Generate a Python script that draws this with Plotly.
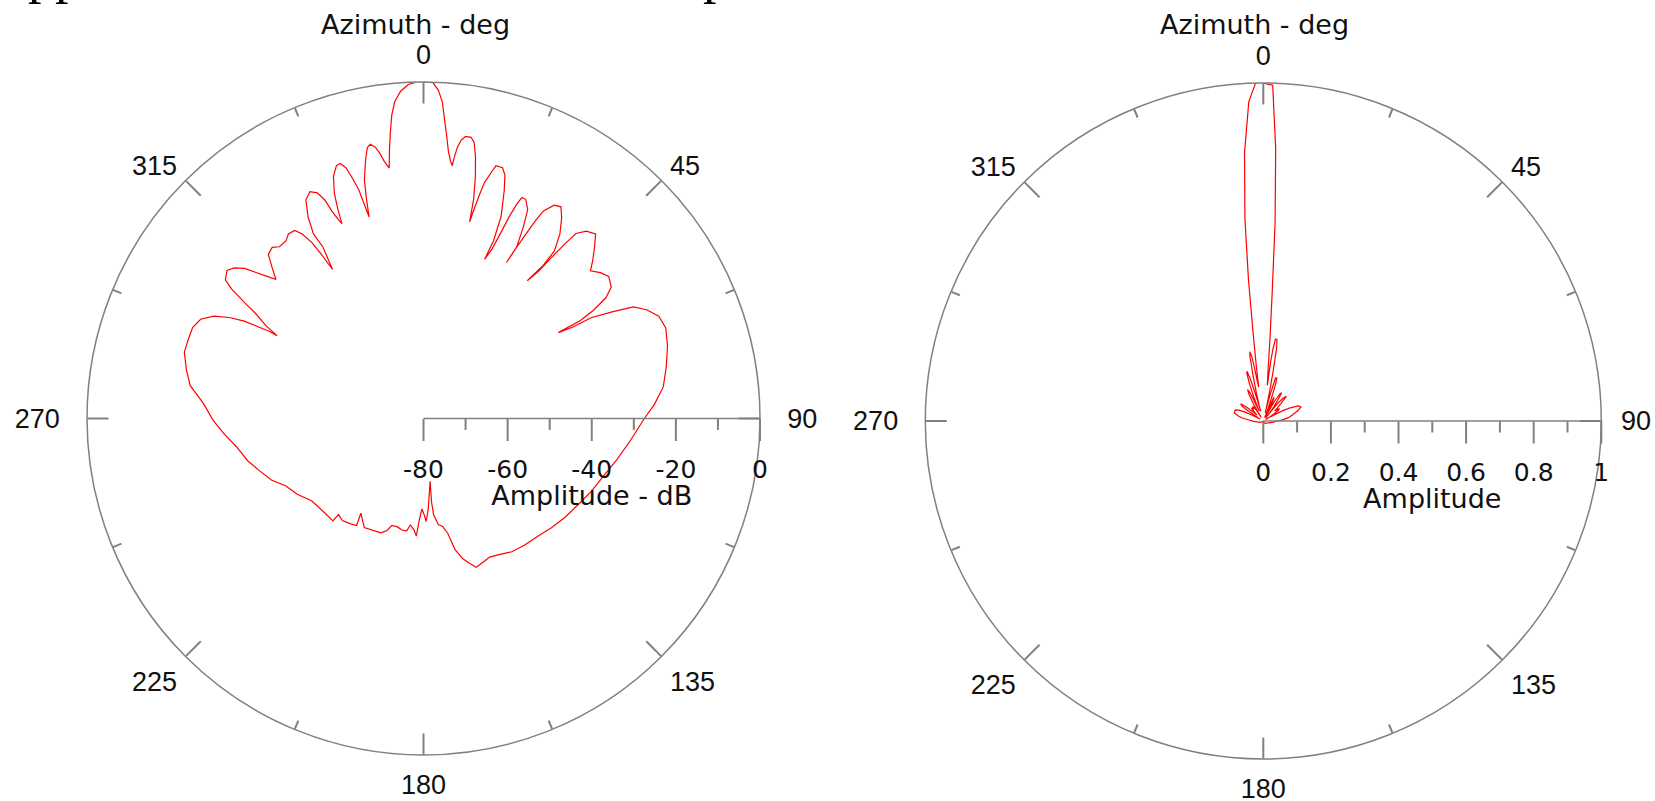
import plotly.graph_objects as go

# Azimuth of each pattern sample (deg, clockwise from north)
AZIMUTH_DEG = [
    359.9, 1.6, 2.6, 3.4, 4.0, 4.7, 5.3, 6.0, 6.5, 6.7, 7.1, 7.7, 8.5, 9.6, 10.4, 11.2, 12.1, 12.9, 13.2,
    13.5, 14.0, 14.5, 15.5, 16.0, 17.5, 18.5, 19.5, 21.0, 21.5, 21.0, 22.0, 22.5, 23.0, 23.5, 24.0, 25.0,
    26.5, 27.5, 28.5, 28.0, 28.5, 29.0, 29.5, 30.0, 31.5, 33.0, 34.5, 36.5, 38.0, 38.0, 37.0, 38.0, 38.5,
    39.0, 39.5, 41.0, 43.0, 45.0, 47.0, 48.5, 50.5, 52.5, 55.0, 56.5, 57.5, 58.0, 57.5, 58.5, 59.0, 60.5,
    62.0, 64.0, 66.5, 69.5, 73.5, 78.0, 82.5, 86.5,
    90.0, 96.0, 102.0, 107.5, 113.5, 119.5, 125.0, 130.5, 136.0, 141.5, 146.5, 151.0, 154.5, 157.5, 160.5,
    162.5, 164.5, 166.5, 168.0, 170.0, 172.0, 174.0, 174.5, 174.0, 177.0, 178.5, 179.5, 181.0, 182.5, 183.5,
    185.0, 187.0, 188.5, 191.0, 193.5, 196.5, 198.0, 200.5,
    208.5, 213.5, 212.0, 215.0, 218.5, 221.5, 221.5, 227.0, 233.5, 239.0, 244.0, 248.0, 252.5, 256.5, 261.5,
    265.5, 269.5, 274.0, 278.0, 281.5, 285.5, 288.5, 291.5, 294.0, 296.0, 297.5, 298.5, 299.0, 299.5, 299.5,
    300.5, 302.0, 303.0, 304.0, 305.0, 307.0, 308.5, 310.0, 311.0,
    312.2, 313.3, 314.9, 316.6, 318.5, 320.0, 322.3, 323.8, 325.6, 326.7, 327.6, 328.1, 328.6, 329.6, 329.2,
    330.2, 331.7, 333.4, 334.8, 335.7, 336.2, 336.9, 337.3, 337.7, 338.4, 339.6, 341.0, 341.9, 342.8, 343.4,
    344.2, 344.6, 344.9, 345.4, 346.1, 347.4, 348.3, 349.0, 349.9, 350.6, 351.3, 352.2, 352.8, 353.4, 354.0,
    354.8, 356.0, 357.4, 358.7,
]

# Pattern level in dB (left plot)
PATTERN_DB = [
    0.0, -0.1, -1.9, -4.6, -8.6, -12.6, -16.1, -18.5, -19.5, -17.6, -15.1, -13.2, -12.2, -12.2, -13.3, -16.4,
    -21.1, -26.7, -32.0,
    -29.5, -25.5, -22.0, -19.0, -17.5, -17.5, -19.0, -22.5, -28.5, -34.5, -39.5, -36.5, -33.0, -28.0, -24.5,
    -22.5, -22.5, -24.5, -28.5, -33.5, -38.0, -34.0, -30.0, -26.0, -23.0, -20.5, -20.0, -22.0, -25.5, -29.5,
    -34.0, -39.0, -35.5, -31.0, -26.5, -23.0, -21.0, -20.0, -22.5, -25.0, -27.0, -25.5, -24.5, -25.5, -28.0,
    -32.0, -36.0, -42.0, -38.5, -33.5, -28.5, -23.5, -21.0, -19.0, -18.5, -19.5, -21.0, -22.5, -25.0,
    -27.5, -30.5, -33.0, -35.0, -36.5, -38.0, -39.0, -40.0, -41.0, -41.5, -42.0, -43.0, -43.5, -43.0, -42.5,
    -44.0, -45.5, -48.0, -52.0, -54.0, -54.5, -57.0, -60.0, -65.0, -58.5, -55.5, -57.0, -58.5, -55.5, -52.0,
    -53.5, -54.5, -53.0, -53.0, -53.5, -53.5, -52.0, -51.0,
    -50.5, -53.0, -50.0, -49.5, -49.0, -49.5, -47.5, -47.5, -47.0, -45.0, -43.5, -41.0, -39.0, -37.0, -35.0,
    -32.5, -30.0, -27.5, -24.0, -22.5, -21.0, -21.0, -21.0, -22.0, -24.5, -28.0, -31.5, -35.0, -38.0, -40.0,
    -36.5, -33.0, -29.0, -25.0, -22.5, -21.5, -22.5, -24.5, -27.0,
    -29.6, -31.8, -29.2, -26.3, -25.7, -26.7, -26.6, -25.6, -25.8, -27.5, -30.4, -34.0, -38.5, -32.8, -28.9,
    -24.8, -21.0, -19.7, -20.7, -23.0, -26.3, -28.8, -29.8, -26.5, -22.4, -18.6, -16.4, -16.2, -17.6, -19.9,
    -23.5, -27.8, -30.4, -26.3, -21.5, -16.9, -14.2, -13.6, -14.4, -16.0, -18.1, -19.9, -15.5, -11.5, -7.6,
    -4.4, -2.0, -0.5, 0.0,
]

# Same pattern as linear amplitude (right plot)
PATTERN_AMP = [
    1.000, 0.994, 0.808, 0.588, 0.372, 0.235, 0.156, 0.119, 0.106, 0.132, 0.176, 0.218, 0.245, 0.244, 0.216,
    0.151, 0.088, 0.046, 0.025,
    0.033, 0.053, 0.079, 0.112, 0.133, 0.133, 0.112, 0.075, 0.038, 0.019, 0.011, 0.015, 0.022, 0.040, 0.060,
    0.075, 0.075, 0.060, 0.038, 0.021, 0.013, 0.020, 0.032, 0.050, 0.071, 0.094, 0.100, 0.079, 0.053, 0.033,
    0.020, 0.011, 0.017, 0.028, 0.047, 0.071, 0.089, 0.100, 0.075, 0.056, 0.045, 0.053, 0.060, 0.053, 0.040,
    0.025, 0.016, 0.008, 0.012, 0.021, 0.038, 0.067, 0.089, 0.112, 0.119, 0.106, 0.089, 0.075, 0.056,
    0.042, 0.030, 0.022, 0.018, 0.015, 0.013, 0.011, 0.010, 0.009, 0.008, 0.008, 0.007, 0.007, 0.007, 0.007,
    0.006, 0.005, 0.004, 0.003, 0.002, 0.002, 0.001, 0.001, 0.001, 0.001, 0.002, 0.001, 0.001, 0.002, 0.003,
    0.002, 0.002, 0.002, 0.002, 0.002, 0.002, 0.003, 0.003,
    0.003, 0.002, 0.003, 0.003, 0.004, 0.003, 0.004, 0.004, 0.004, 0.006, 0.007, 0.009, 0.011, 0.014, 0.018,
    0.024, 0.032, 0.042, 0.063, 0.075, 0.089, 0.089, 0.089, 0.079, 0.060, 0.040, 0.027, 0.018, 0.013, 0.010,
    0.015, 0.022, 0.035, 0.056, 0.075, 0.084, 0.075, 0.060, 0.045,
    0.033, 0.026, 0.035, 0.049, 0.052, 0.046, 0.047, 0.052, 0.051, 0.042, 0.030, 0.020, 0.012, 0.023, 0.036,
    0.058, 0.089, 0.104, 0.093, 0.071, 0.048, 0.036, 0.032, 0.047, 0.076, 0.117, 0.151, 0.154, 0.131, 0.101,
    0.067, 0.041, 0.030, 0.048, 0.084, 0.143, 0.194, 0.209, 0.192, 0.159, 0.124, 0.101, 0.168, 0.265, 0.418,
    0.600, 0.796, 0.946, 1.000,
]

NBSP = '\u00a0'
ANGLE_TICKS = [0, 45, 90, 135, 180, 225, 270, 315]
ANGLE_TEXT_LEFT = ['0', '45', NBSP * 2 + '90', '135', '180', '225', '270' + NBSP * 2, '315']
ANGLE_TEXT_RIGHT = ['0', '45', NBSP + '90', '135', '180', '225', '270' + NBSP * 2, '315']
ANGLE_MINOR = [22.5, 67.5, 112.5, 157.5, 202.5, 247.5, 292.5, 337.5]
DB_RANGE = [-80, 0]
DB_TICKS = [-80, -60, -40, -20, 0]
DB_MINOR = [-70, -50, -30, -10]
AMP_RANGE = [0, 1]
AMP_TICKS = [0, 0.2, 0.4, 0.6, 0.8, 1]
AMP_TICK_TEXT = ['0', '0.2', '0.4', '0.6', '0.8', '1']
AMP_MINOR = [0.1, 0.3, 0.5, 0.7, 0.9]

W, H = 1655, 801
GREY = '#808080'
CLEAR = 'rgba(0,0,0,0)'
RED = '#ff0000'
LABEL_FONT = dict(family='Liberation Sans, Arial, sans-serif', size=27, color='#111111')
TICK_FONT = dict(family='DejaVu Sans, sans-serif', size=25, color='#111111')
TITLE_FONT = dict(family='DejaVu Sans, sans-serif', size=27, color='#111111')
SERIF_FONT = dict(family='Liberation Serif, Times New Roman, serif', size=54, color='#000000')


def domain(cx, cy, r):
    """Square domain (paper fractions) for a circle of radius r centred at pixel (cx, cy)."""
    return dict(x=[(cx - r) / W, (cx + r) / W], y=[(H - (cy + r)) / H, (H - (cy - r)) / H])


def polar_layers(dom, ang_text, rng, rticks, rtext, rminor, rtitle):
    """Three stacked polar layouts: labelled axes, minor ticks, major ticks."""
    ang = dict(rotation=90, direction='clockwise', showgrid=False)
    # invisible outward ticks only push the labels away from the axes
    labelled = dict(
        domain=dom, bgcolor=CLEAR,
        angularaxis=dict(**ang, tickmode='array', tickvals=ANGLE_TICKS, ticktext=ang_text,
                         ticks='outside', ticklen=6, tickcolor=CLEAR, showline=True,
                         linecolor=GREY, linewidth=1.5, tickfont=LABEL_FONT),
        radialaxis=dict(range=rng, angle=0, side='clockwise', tickmode='array', tickvals=rticks,
                        ticktext=rtext, ticks='outside', ticklen=29, tickcolor=CLEAR,
                        showline=True, linecolor=GREY, linewidth=1.5, showgrid=False,
                        tickfont=TICK_FONT, title=dict(text=rtitle, font=TITLE_FONT)))
    minor = dict(
        domain=dom, bgcolor=CLEAR,
        angularaxis=dict(**ang, tickmode='array', tickvals=ANGLE_MINOR, ticks='inside', ticklen=9,
                         tickwidth=1.5, tickcolor=GREY, showticklabels=False, showline=False),
        radialaxis=dict(range=rng, angle=0, side='clockwise', tickmode='array', tickvals=rminor,
                        ticks='outside', ticklen=11, tickwidth=1.5, tickcolor=GREY,
                        showticklabels=False, showline=False, showgrid=False))
    major = dict(
        domain=dom, bgcolor=CLEAR,
        angularaxis=dict(**ang, tickmode='array', tickvals=ANGLE_TICKS, ticks='inside', ticklen=21,
                         tickwidth=1.5, tickcolor=GREY, showticklabels=False, showline=False),
        radialaxis=dict(range=rng, angle=0, side='clockwise', tickmode='array', tickvals=rticks,
                        ticks='outside', ticklen=22, tickwidth=1.5, tickcolor=GREY,
                        showticklabels=False, showline=False, showgrid=False))
    return labelled, minor, major


left = polar_layers(domain(423.5, 418.5, 336.5), ANGLE_TEXT_LEFT, DB_RANGE, DB_TICKS,
                    [str(v) for v in DB_TICKS], DB_MINOR, 'Amplitude - dB')
right = polar_layers(domain(1263.3, 421.0, 338), ANGLE_TEXT_RIGHT, AMP_RANGE, AMP_TICKS,
                     AMP_TICK_TEXT, AMP_MINOR, 'Amplitude')

fig = go.Figure()
fig.add_trace(go.Scatterpolar(r=PATTERN_DB, theta=AZIMUTH_DEG, mode='lines',
                              line=dict(color=RED, width=1.2), subplot='polar', hoverinfo='skip'))
fig.add_trace(go.Scatterpolar(r=[], theta=[], subplot='polar2'))
fig.add_trace(go.Scatterpolar(r=[], theta=[], subplot='polar3'))
fig.add_trace(go.Scatterpolar(r=PATTERN_AMP, theta=AZIMUTH_DEG, mode='lines',
                              line=dict(color=RED, width=1.2), subplot='polar4', hoverinfo='skip'))
fig.add_trace(go.Scatterpolar(r=[], theta=[], subplot='polar5'))
fig.add_trace(go.Scatterpolar(r=[], theta=[], subplot='polar6'))

fig.update_layout(
    width=W, height=H, margin=dict(l=0, r=0, t=0, b=0), showlegend=False,
    paper_bgcolor='white',
    polar=left[0], polar2=left[1], polar3=left[2],
    polar4=right[0], polar5=right[1], polar6=right[2],
)

for xc in (415, 1254):
    fig.add_annotation(x=xc / W, y=1 - 25 / H, xref='paper', yref='paper', text='Azimuth - deg',
                       showarrow=False, font=TITLE_FONT, xanchor='center', yanchor='middle')

# caption line running off the top edge
for xc, txt in ((55, 'pp'), (716, 'p')):
    fig.add_annotation(x=xc / W, y=1 - 6 / H, xref='paper', yref='paper', text=txt, showarrow=False,
                       font=SERIF_FONT, xanchor='center', yanchor='bottom')

fig.write_html('out.html')
